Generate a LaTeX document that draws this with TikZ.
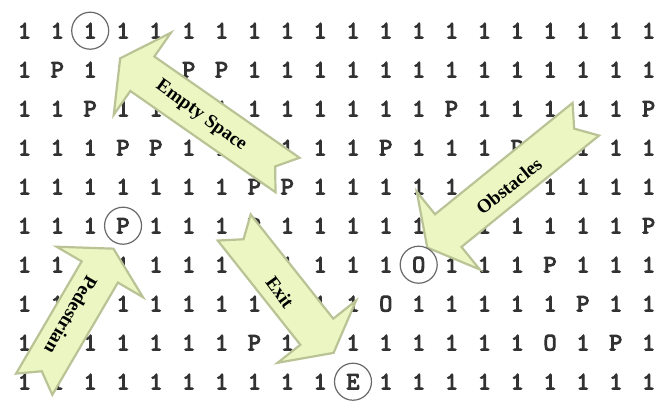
\documentclass[tikz,border=0pt]{standalone}
\usepackage{fontspec}
\setmainfont{Liberation Serif}
\newfontfamily\gridfont{lmmono10-regular.otf}[AutoFakeBold=4]
\usepackage{xcolor}
\definecolor{arrowfill}{RGB}{236,246,194}
\definecolor{arrowline}{RGB}{186,195,150}
\definecolor{gridink}{RGB}{50,50,50}
\definecolor{ringline}{RGB}{105,105,105}
% block arrow with a notched tail: tail centre, angle, length
\newcommand{\notcharrow}[3]{%
  \begin{scope}[shift={#1}, rotate=#2]
    \draw[blockarrow] (0,21) -- ({#3-27},21) -- ({#3-27},50) -- (#3,0)
      -- ({#3-27},-50) -- ({#3-27},-21) -- (0,-21) -- (15,0) -- cycle;
  \end{scope}}

\begin{document}
\begin{tikzpicture}[x=1pt, y=-1pt,
  cell/.style={font=\gridfont\bfseries\fontsize{25}{25}\selectfont,
               text=gridink, inner sep=0pt},
  ring/.style={circle, draw=ringline, line width=1.2pt,
               minimum size=37pt, inner sep=0pt},
  blockarrow/.style={fill=arrowfill, draw=arrowline, line width=2.2pt,
                     line join=miter},
  tag/.style={font=\bfseries\fontsize{19}{19}\selectfont, inner sep=0pt},
]
  \useasboundingbox[fill=white] (0,0) rectangle (667,405);
  % the grid
  \foreach \row [count=\r] in {
    {1,1,1,1,1,1,1,1,1,1,1,1,1,1,1,1,1,1,1,1},
    {1,P,1,1,1,P,P,1,1,1,1,1,1,1,1,1,1,1,1,1},
    {1,1,P,1,1,1,1,1,1,1,1,1,1,P,1,1,1,1,1,P},
    {1,1,1,P,P,1,1,1,1,1,1,P,1,1,1,P,1,1,1,1},
    {1,1,1,1,1,1,1,P,P,1,1,1,1,1,1,1,1,1,1,1},
    {1,1,1,P,1,1,1,P,1,1,1,1,1,1,1,1,1,1,1,P},
    {1,1,1,1,1,1,1,1,1,1,1,1,O,1,1,1,P,1,1,1},
    {1,1,1,1,1,1,1,1,1,1,1,O,1,1,1,1,1,P,1,1},
    {1,1,1,1,1,1,1,P,1,1,1,1,1,1,1,1,O,1,P,1},
    {1,1,1,1,1,1,1,1,1,1,E,1,1,1,1,1,1,1,1,1}}
  {
    \foreach \ch [count=\c] in \row
      \node[cell] (c\r-\c) at ({24.5+32.85*(\c-1)},{30.7+39*(\r-1)}) {\ch};
  }
  % the callouts
  \notcharrow{(287.5,175)}{145.1}{204}
  \notcharrow{(585.8,119.2)}{219}{204}
  \notcharrow{(34.2,384.2)}{59.7}{157}
  \notcharrow{(234.2,227.5)}{-51.6}{160}
  \node[tag, rotate=-36] (empty) at (201,116) {Empty Space};
  \node[tag, rotate=39] (obst) at (509,186) {Obstacles};
  \node[tag, rotate=-120] (ped) at (71,315) {Pedestrian};
  \node[tag, rotate=-54] (exit) at (280,292) {Exit};
  % marked cells
  \node[ring] (ring-empty) at (c1-3) {};
  \node[ring] (ring-ped) at (c6-4) {};
  \node[ring] (ring-obst) at (c7-13) {};
  \node[ring] (ring-exit) at (c10-11) {};
\end{tikzpicture}
\end{document}
